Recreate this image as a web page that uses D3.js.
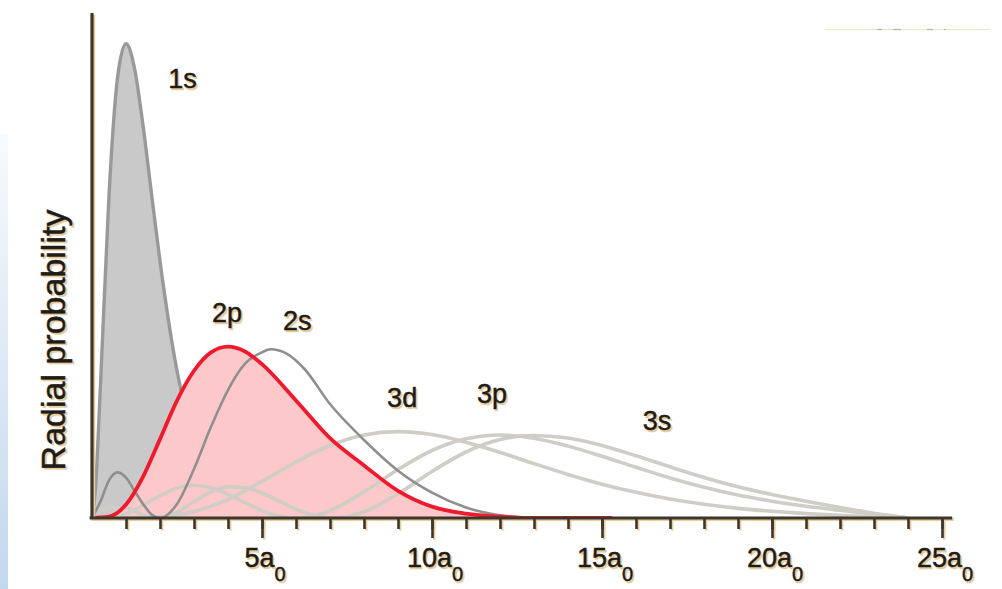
<!DOCTYPE html>
<html>
<head>
<meta charset="utf-8">
<script src="https://cdn.jsdelivr.net/npm/d3@7"></script>
<style>
  html, body { margin: 0; padding: 0; background: #ffffff; }
  svg { display: block; }
  text { font-family: "Liberation Sans", Arial, Helvetica, sans-serif; }
</style>
</head>
<body>
<svg id="chart" width="1002" height="589"></svg>
<script>
// ---------- data (radius in units of a0, radial probability) ----------
const r1s = [0, 0.1, 0.25, 0.5, 0.75, 1, 1.25, 1.5, 1.75, 2, 2.5, 3, 3.5, 4, 4.5, 5, 6, 7];
const p1s = [0, 0.033, 0.152, 0.368, 0.502, 0.541, 0.513, 0.448, 0.370, 0.293, 0.168, 0.089, 0.045, 0.021, 0.010, 0.0045, 0.001, 0];

const r2s = [0, 0.25, 0.5, 0.75, 1, 1.25, 1.5, 1.75, 2, 2.5, 3, 3.5, 4, 4.5, 5, 5.25, 5.75, 6.25, 7, 8, 9, 10, 11, 12, 13];
const p2s = [0, 0.019, 0.043, 0.052, 0.046, 0.031, 0.016, 0.004, 0, 0.016, 0.056, 0.104, 0.146, 0.176, 0.189, 0.1925, 0.187, 0.170, 0.130, 0.089, 0.054, 0.029, 0.012, 0.003, 0];

const r2p = [0, 0.5, 1, 1.5, 2, 2.5, 3, 3.5, 4, 4.5, 5, 6, 7, 8, 9, 10, 11, 12, 13, 15.3];
const p2p = [0, 0.0016, 0.0153, 0.047, 0.090, 0.134, 0.168, 0.189, 0.1955, 0.190, 0.1755, 0.134, 0.091, 0.060, 0.031, 0.013, 0.005, 0.0015, 0, 0];

const r3s = [0, 0.5, 1, 1.5, 1.9, 2.5, 3, 3.5, 4, 4.5, 5, 5.5, 6, 6.5, 7.1, 7.5, 8, 9, 10, 11, 12, 13, 14, 15, 16, 17, 18, 19, 20, 21, 22, 23, 24];
const p3s = [0, 0.0116, 0.0117, 0.0032, 0, 0.0068, 0.0186, 0.0297, 0.0355, 0.0347, 0.0285, 0.0193, 0.0101, 0.0032, 0, 0.0015, 0.0071, 0.0276, 0.0531, 0.0753, 0.0895, 0.0942, 0.0912, 0.0827, 0.0710, 0.0584, 0.0463, 0.0356, 0.0267, 0.0190, 0.0120, 0.0055, 0];

const r3p = [0, 0.5, 1, 1.5, 2, 2.5, 3, 3.5, 4, 4.5, 5, 5.5, 6, 6.5, 7, 8, 9, 10, 11, 12, 13, 14, 15, 16, 17, 18, 19, 20, 21, 22, 23, 24];
const p3p = [0, 0.0005, 0.0049, 0.0143, 0.0255, 0.0341, 0.0373, 0.0344, 0.0269, 0.0174, 0.0084, 0.0022, 0, 0.0022, 0.0085, 0.0299, 0.0553, 0.0770, 0.0903, 0.0947, 0.0910, 0.0820, 0.0704, 0.0578, 0.0457, 0.0351, 0.0262, 0.0192, 0.0135, 0.0088, 0.0045, 0];

const r3d = [0, 1, 2, 3, 4, 5, 6, 7, 8, 9, 10, 11, 12, 13, 14, 15, 16, 17, 18, 19, 20, 21, 22, 23, 24];
const p3d = [0, 0, 0.0013, 0.0074, 0.0213, 0.0417, 0.0639, 0.0827, 0.0947, 0.0985, 0.0952, 0.0865, 0.0749, 0.0620, 0.0497, 0.0386, 0.0293, 0.0216, 0.0156, 0.0110, 0.0077, 0.0050, 0.0030, 0.0014, 0];

const orbitalNames = ["1s", "2p", "2s", "3d", "3p", "3s"];
// label anchor (radius, probability) for each orbital name, in data units
const labelR = [2.24, 3.53, 5.62, 8.68, 11.32, 16.2];
const labelP = [0.4906, 0.2236, 0.2145, 0.1266, 0.1312, 0.1004];

const minorTicks = d3.range(1, 26);
const majorTicks = [5, 10, 15, 20, 25];
const tickBase = ["5", "10", "15", "20", "25"];
const tickUnit = "a";
const tickSub = "0";
const yTitle = "Radial probability";

// ---------- drawing ----------
const svg = d3.select("#chart");
const x = d3.scaleLinear().domain([0, 25]).range([92, 942]);
const y = d3.scaleLinear().domain([0, 0.575]).range([518, 14]);

const SHADOW = "#e7cd9c";
const INK = "#1f1b17";

// left blue strip
const defs = svg.append("defs");
const grad = defs.append("linearGradient").attr("id", "strip").attr("x1", 0).attr("y1", 0).attr("x2", 0).attr("y2", 1);
grad.append("stop").attr("offset", "0%").attr("stop-color", "#f7fafd");
grad.append("stop").attr("offset", "100%").attr("stop-color", "#c2d8ee");
svg.append("rect").attr("x", 0).attr("y", 134).attr("width", 8).attr("height", 455).attr("fill", "url(#strip)");

// faint top-right rule
svg.append("line").attr("x1", 825).attr("x2", 990).attr("y1", 29.5).attr("y2", 29.5)
  .attr("stroke", "#f0e2c2").attr("stroke-width", 1.2);
[[877, 882], [893, 901], [927, 933], [944, 946]].forEach(s => {
  svg.append("line").attr("x1", s[0]).attr("x2", s[1]).attr("y1", 29.5).attr("y2", 29.5)
    .attr("stroke", "#a89c88").attr("stroke-width", 1.2).attr("opacity", 0.7);
});

const zip = (rs, ps) => rs.map((r, i) => [r, ps[i]]);
const line = d3.line().x(d => x(d[0])).y(d => y(d[1])).curve(d3.curveMonotoneX);
const area = d3.area().x(d => x(d[0])).y0(y(0)).y1(d => y(d[1])).curve(d3.curveMonotoneX);

const plot = svg.append("g");

// 1s filled
plot.append("path").datum(zip(r1s, p1s)).attr("d", area).attr("fill", "#c9c9c9");
plot.append("path").datum(zip(r1s, p1s)).attr("d", line)
  .attr("fill", "none").attr("stroke", "#999999").attr("stroke-width", 3.4);

// 2p filled
plot.append("path").datum(zip(r2p, p2p)).attr("d", area).attr("fill", "#fdc8ca");

// n=3 lines
[[r3d, p3d], [r3p, p3p], [r3s, p3s]].forEach(s => {
  plot.append("path").datum(zip(s[0], s[1])).attr("d", line)
    .attr("fill", "none").attr("stroke", "#d0cdc7").attr("stroke-width", 3.6);
});

// 2s line
plot.append("path").datum(zip(r2s, p2s)).attr("d", line)
  .attr("fill", "none").attr("stroke", "#8f8f8f").attr("stroke-width", 2.6);

// 2p line
plot.append("path").datum(zip(r2p, p2p)).attr("d", line)
  .attr("fill", "none").attr("stroke", "#ee1a2e").attr("stroke-width", 3.8);

// axes (tan shadow then dark)
function drawAxes(dx, dy, color) {
  const g = svg.append("g").attr("transform", `translate(${dx},${dy})`);
  const minorAxis = d3.axisBottom(x).tickValues(minorTicks).tickSize(11).tickSizeOuter(0).tickFormat("");
  const majorAxis = d3.axisBottom(x).tickValues(majorTicks).tickSize(20).tickSizeOuter(0).tickFormat("");
  const gm = g.append("g").attr("transform", `translate(0,${y(0)})`).call(minorAxis);
  const gM = g.append("g").attr("transform", `translate(0,${y(0)})`).call(majorAxis);
  [gm, gM].forEach(a => {
    a.select(".domain").remove();
    a.selectAll(".tick line").attr("stroke", color).attr("stroke-width", 2.6);
  });
  g.append("line").attr("x1", x(-0.07)).attr("x2", x(25.3)).attr("y1", y(0)).attr("y2", y(0))
    .attr("stroke", color).attr("stroke-width", 3);
  g.append("line").attr("x1", x(0)).attr("x2", x(0)).attr("y1", y(0.576)).attr("y2", y(0) + 1)
    .attr("stroke", color).attr("stroke-width", 3.2);
}
drawAxes(1.6, 1.6, SHADOW);
drawAxes(0, 0, "#3e352d");

// text with tan shadow
function shadowText(g, build) {
  build(g.append("text").attr("fill", SHADOW).attr("stroke", SHADOW).attr("stroke-width", 0.6)
    .attr("transform", "translate(1.7,1.7)"));
  build(g.append("text").attr("fill", INK).attr("stroke", INK).attr("stroke-width", 0.45));
}
const tl = svg.append("g");
majorTicks.forEach((v, i) => {
  shadowText(tl, t => {
    t.attr("x", x(v) + 3).attr("y", y(0) + 49).attr("text-anchor", "middle").attr("font-size", 27);
    t.append("tspan").text(tickBase[i] + tickUnit);
    t.append("tspan").attr("font-size", 20).attr("dy", 14).text(tickSub);
  });
});

// orbital labels
orbitalNames.forEach((n, i) => {
  shadowText(tl, t => {
    t.attr("x", x(labelR[i])).attr("y", y(labelP[i])).attr("font-size", 27).text(n);
  });
});

// y title
shadowText(tl, t => {
  t.attr("text-anchor", "middle").attr("font-size", 34)
    .attr("x", 0).attr("y", 0)
    .text(yTitle);
  const base = t.attr("transform") || "";
  t.attr("transform", `${base} translate(65,340) rotate(-90)`);
});
</script>
</body>
</html>
